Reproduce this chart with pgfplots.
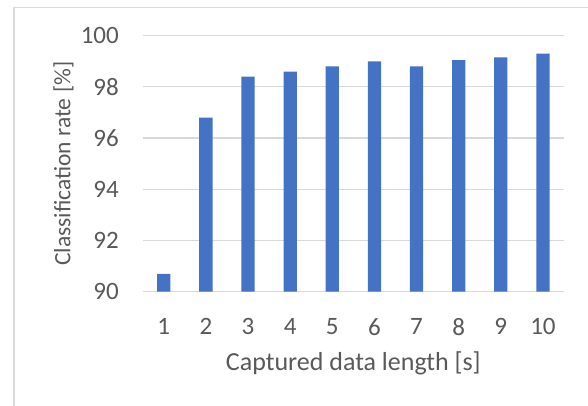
\documentclass[border=0pt]{standalone}
\usepackage{fontspec}
\setmainfont{Carlito}
\usepackage{pgfplots}
\pgfplotsset{compat=1.18}
\definecolor{barblue}{HTML}{4472C4}
\definecolor{gridgray}{HTML}{D9D9D9}
\definecolor{txtgray}{HTML}{595959}
\begin{document}
\begin{tikzpicture}[x=1pt,y=1pt]
\useasboundingbox (0,0) rectangle (588,406);
\draw[gridgray, line width=1.2pt] (14,0) -- (14,398.7) -- (588,398.7);
\begin{axis}[
  at={(142.7pt,114.3pt)}, anchor=south west,
  width=421.3pt, height=256pt, scale only axis,
  xmin=0.5, xmax=10.5, ymin=90, ymax=100,
  ytick={90,92,...,100}, xtick={1,...,10},
  /pgf/number format/assume math mode=true,
  axis line style={draw=none},
  major tick length=0pt,
  ymajorgrids, grid style={gridgray, line width=1.2pt},
  tick label style={font=\fontsize{25}{30}\selectfont, text=txtgray, inner sep=0pt},
  xticklabel shift=26.5pt, yticklabel shift=23.7pt,
  xlabel={Captured data length [s]},
  ylabel={Classification rate [\%]},
  every axis x label/.style={at={(axis description cs:0.5,-0.3059)}, anchor=base, font=\fontsize{26}{30}\selectfont, text=txtgray},
  every axis y label/.style={at={(axis description cs:-0.1714,0.5)}, rotate=90, anchor=base, font=\fontsize{23.5}{28}\selectfont, text=txtgray},
]
\addplot[ybar, bar width=13.3pt, fill=barblue, draw=none] coordinates {
  (1,90.7) (2,96.8) (3,98.4) (4,98.6) (5,98.8)
  (6,99.0) (7,98.8) (8,99.05) (9,99.15) (10,99.3)
};
\end{axis}
\end{tikzpicture}
\end{document}
